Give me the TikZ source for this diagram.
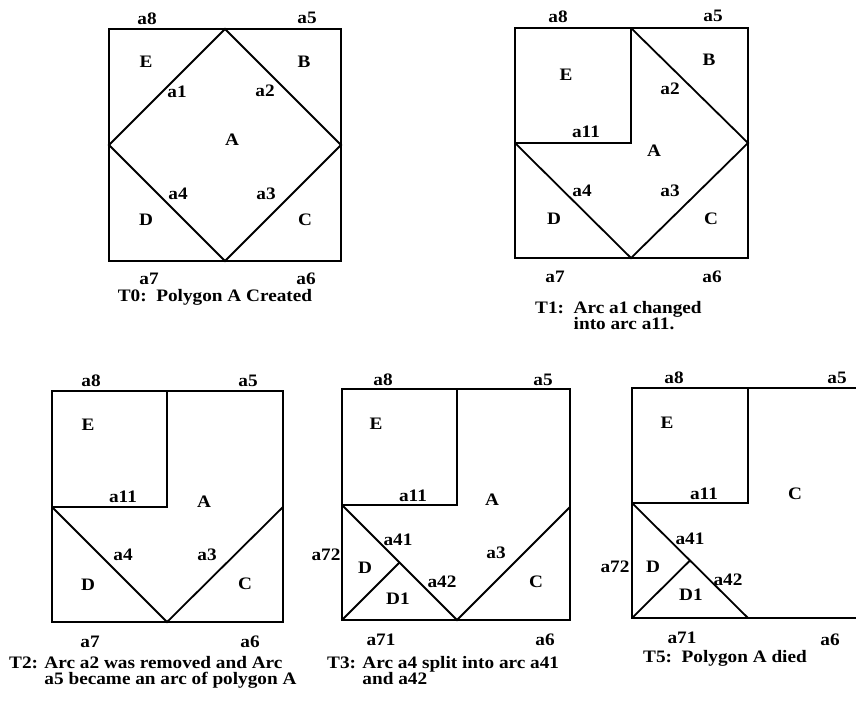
\documentclass[tikz,border=0pt]{standalone}
\usepackage{fontspec}
\setmainfont[FakeStretch=1.1]{Liberation Serif}
\usepackage{tikz}

\tikzset{
  lbl/.style={font=\fontsize{17.5}{18}\selectfont\bfseries, inner sep=0pt},
  captxt/.style={font=\fontsize{17.5}{16.5}\selectfont\bfseries, inner sep=0pt, align=left},
  edge/.style={line width=1.8pt, line join=miter},
}

\begin{document}
\begin{tikzpicture}[x=1pt,y=-1pt]
        \useasboundingbox (0,0) rectangle (856,703);
        % T0
        \draw[edge] (109,29) rectangle (341,261);
        \draw[edge] (225,29) -- (341,145) -- (225,261) -- (109,145) -- cycle;
        \foreach \n/\x/\y in {a8/147/19, a5/307/18, E/146/62, B/304/62, a1/177/92, a2/265/91, A/232/140,
                              a4/178/194, a3/266/194, D/146/220, C/305/220, a7/149/279, a6/306/279}{
            \node[lbl] (t0\n) at (\x,\y) {\n};
        }
        \node[captxt] (capT0) at (215,297) {T0:\ \ Polygon A Created};
        % T1
        \draw[edge] (515,28) rectangle (748,258);
        \draw[edge] (631,28) -- (631,143) -- (515,143);
        \draw[edge] (631,28) -- (748,143) -- (631,258) -- (515,143);
        \foreach \n/\x/\y in {a8/558/17, a5/713/16, E/566/75, B/709/60, a2/670/89, a11/586/132, A/654/151,
                              a4/582/191, a3/670/191, D/554/219, C/711/219, a7/555/277, a6/712/277}{
            \node[lbl] (t1\n) at (\x,\y) {\n};
        }
        \node[captxt, anchor=north west] (capT1) at (535,301) {T1:\ \ Arc a1 changed\\\phantom{T1:\ \ }into arc a11.};
        % T2
        \draw[edge] (52,391) rectangle (283,622);
        \draw[edge] (167,391) -- (167,507) -- (52,507);
        \draw[edge] (52,507) -- (167,622) -- (283,507);
        \foreach \n/\x/\y in {a8/91/381, a5/248/381, E/88/425, a11/123/497, A/204/502,
                              a4/123/555, a3/207/555, D/88/585, C/245/584, a7/90/642, a6/250/642}{
            \node[lbl] (t2\n) at (\x,\y) {\n};
        }
        \node[captxt, anchor=north west] (capT2) at (9,656) {T2: Arc a2 was removed and Arc\\\phantom{T2: }a5 became an arc of polygon A};
        % T3
        \draw[edge] (342,389) rectangle (570,620);
        \draw[edge] (457,389) -- (457,505) -- (342,505);
        \draw[edge] (342,505) -- (457,620) -- (570,507);
        \draw[edge] (342,620) -- (399.5,562.5);
        \foreach \n/\x/\y in {a8/383/380, a5/543/380, E/376/424, a11/413/496, A/492/500, a41/398/540,
                              a72/326/555, a3/496/553, D/365/568, a42/442/582, C/536/582, D1/398/599,
                              a71/381/640, a6/545/640}{
            \node[lbl] (t3\n) at (\x,\y) {\n};
        }
        \node[captxt, anchor=north west] (capT3) at (327,656) {T3: Arc a4 split into arc a41\\\phantom{T3: }and a42};
        % T5
        \draw[edge] (856,388) -- (632,388) -- (632,618) -- (856,618);
        \draw[edge] (748,388) -- (748,503) -- (632,503);
        \draw[edge] (632,503) -- (748,618);
        \draw[edge] (632,618) -- (690,560.5);
        \foreach \n/\x/\y in {a8/674/378, a5/837/378, E/667/423, a11/704/494, C/795/494, a41/690/539,
                              a72/615/567, D/653/567, a42/728/580, D1/691/595, a71/682/638, a6/830/640}{
            \node[lbl] (t5\n) at (\x,\y) {\n};
        }
        \node[captxt] (capT5) at (725,658) {T5:\ \ Polygon A died};
    \end{tikzpicture}
\end{document}
